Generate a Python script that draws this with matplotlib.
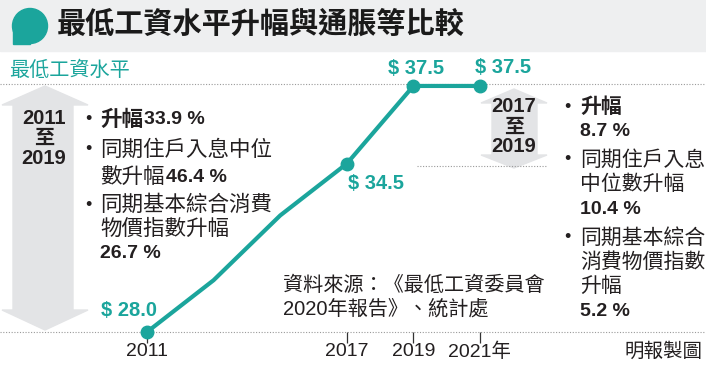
import matplotlib
matplotlib.use("Agg")
import matplotlib.pyplot as plt
from matplotlib.patches import Polygon, Circle, Rectangle
from matplotlib.transforms import Affine2D, blended_transform_factory

# data
years = [2011, 2013, 2015, 2017, 2019, 2021]
wage = [28.0, 30.0, 32.5, 34.5, 37.5, 37.5]
labelled = [2011, 2017, 2019, 2021]
tick_years = [2011, 2017, 2019, 2021]
tick_labels = ["2011", "2017", "2019", "2021年"]

title = "最低工資水平升幅與通脹等比較"
subtitle = "最低工資水平"
source = ["資料來源：《最低工資委員會", "2020年報告》、統計處"]

TEAL = "#1ba59c"
INK = "#231f20"
GREY = "#e3e4e6"

plt.rcParams["font.family"] = ["Liberation Sans", "Noto Sans CJK TC"]

W, H = 706, 365
fig = plt.figure(figsize=(W / 100, H / 100), dpi=100)
# pixel coords, origin top-left
T = Affine2D().scale(1 / W, -1 / H).translate(0, 1) + fig.transFigure

ax = fig.add_axes([0, 0, 1, 1])
ax.set_xlim(2006.586, 2027.787)
ax.set_ylim(26.726, 40.819)
ax.axis("off")
ax.patch.set_visible(False)


def put(x, y, s, size=15, bold=False, color=INK, ha="left", **kw):
    return fig.text(x, y, s, transform=T, fontsize=size, color=color, ha=ha,
                    va="center", fontweight="bold" if bold else "normal", **kw)


renderer = fig.canvas.get_renderer()


def put_pair(x, y, a, b, size_a=15, size_b=14, bold_a=False):
    t = put(x, y, a, size=size_a, bold=bold_a)
    w = t.get_window_extent(renderer).width
    put(x + w + 1, y, b, size=size_b, bold=True)


# title band
fig.add_artist(Rectangle((0, 0), W, 51, transform=T, color="#eeeff0", zorder=-3))
fig.add_artist(Circle((30, 26), 17.5, transform=T, color=TEAL, zorder=-2))
fig.add_artist(Rectangle((12.5, 26), 17.5, 17.5, transform=T, color=TEAL, zorder=-2))
put(57, 25, title, size=21, bold=True, color="#1a1a1a")
put(9, 70, subtitle, size=14.5, color=TEAL)

# big range arrows
def arrow(x0, x1, s0, s1, top, hb, bb, bottom):
    pts = [((x0 + x1) / 2, top), (x1, hb), (s1, hb), (s1, bb), (x1, bb),
           ((x0 + x1) / 2, bottom), (x0, bb), (s0, bb), (s0, hb), (x0, hb)]
    fig.add_artist(Polygon(pts, closed=True, transform=T, color=GREY, zorder=-2))

arrow(2, 88, 13, 73, 86, 105, 310, 330)
arrow(481, 547, 492, 537, 89, 103, 155, 168)

for yy, s in [(118, "2011"), (138, "至"), (158, "2019")]:
    put(44, yy, s, size=14.5, bold=True, ha="center")
for yy, s in [(107, "2017"), (127, "至"), (146, "2019")]:
    put(514, yy, s, size=14.5, bold=True, ha="center")

# reference lines
dots = dict(color="#9a9a9a", lw=0.8, linestyle=(0, (1, 1.5)), zorder=1)
ax.axhline(max(wage) + 0.07, **dots)
ax.axhline(min(wage), **dots)
ax.hlines(wage[years.index(2017)] - 0.1, 2019.1, 2023.0, **dots)

# wage line
ax.plot(years, wage, color=TEAL, lw=3, solid_joinstyle="round", zorder=3)
ax.plot(labelled, [wage[years.index(y)] for y in labelled], "o",
        color=TEAL, ms=9, zorder=4)

offsets = {2011: (-18, 22), 2017: (29, -20), 2019: (3, 17), 2021: (23, 18)}
for y in labelled:
    v = wage[years.index(y)]
    ax.annotate(f"$ {v:.1f}", (y, v), xytext=offsets[y], textcoords="offset pixels",
                ha="center", va="center", fontsize=14.5, fontweight="bold", color=TEAL)

# ticks
ax.vlines(tick_years, min(wage) - 11 / 25.9, min(wage), color="#333333", lw=0.9)
bt = blended_transform_factory(ax.transData, T)
for y, lab in zip(tick_years, tick_labels):
    ax.text(y, 352, lab, transform=bt, ha="center", va="center", fontsize=14, color=INK)
put(703, 352, "明報製圖", size=14, ha="right")

# left notes
for yy in [120, 150, 205]:
    put(88, yy, "•", size=13, ha="center")
put_pair(100, 120, "升幅", "33.9 %", size_a=15.5, bold_a=True)
put(100, 150, "同期住戶入息中位", size=15.5)
put_pair(100, 177, "數升幅", "46.4 %", size_a=15.5)
put(100, 205, "同期基本綜合消費", size=15.5)
put(100, 229, "物價指數升幅", size=15.5)
put(100, 253, "26.7 %", size=14, bold=True)

# right notes
for yy in [107, 160, 238]:
    put(567, yy, "•", size=13, ha="center")
put(580, 107, "升幅", bold=True)
put(580, 132, "8.7 %", size=14, bold=True)
put(580, 160, "同期住戶入息")
put(580, 184, "中位數升幅")
put(580, 209, "10.4 %", size=14, bold=True)
put(580, 238, "同期基本綜合")
put(580, 262, "消費物價指數")
put(580, 286, "升幅")
put(580, 311, "5.2 %", size=14, bold=True)

# source
put(283, 285, source[0], size=14.5)
put(283, 309, source[1], size=14.5)

fig.savefig("out.png", dpi=100)
